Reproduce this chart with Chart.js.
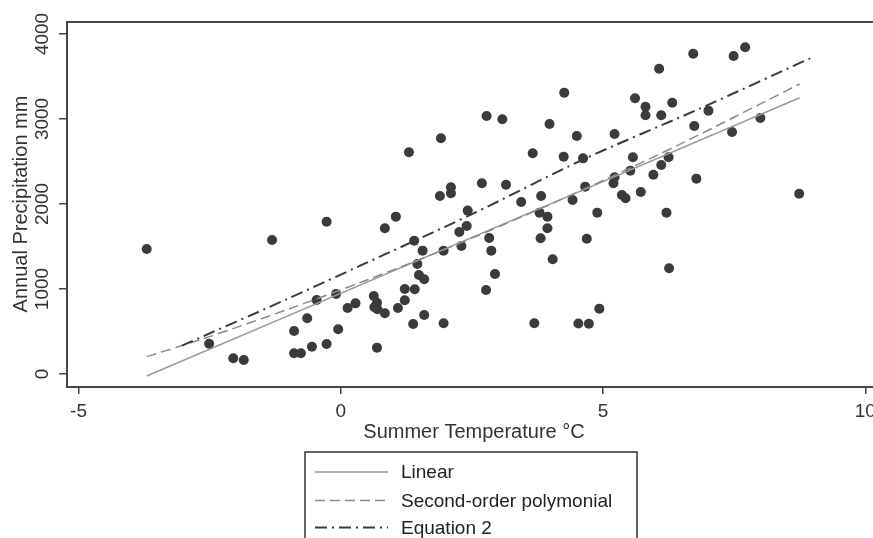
<!DOCTYPE html>
<html>
<head>
<meta charset="utf-8">
<script src="https://cdn.jsdelivr.net/npm/chart.js@4.4.1/dist/chart.umd.min.js"></script>
<style>
  html, body { margin: 0; padding: 0; background: #fff; overflow: hidden; }
  #wrap { position: relative; width: 900px; height: 538px; }
</style>
</head>
<body>
<div id="wrap"><canvas id="chart"></canvas></div>
<script>
// scatter: summer temperature (°C) vs annual precipitation (mm)
const tempC = [-3.70,-2.51,-2.05,-1.85,-1.31,-0.89,-0.89,-0.76,-0.64,-0.55,-0.46,-0.27,-0.27,-0.09,-0.05,0.13,0.28,0.63,0.64,0.69,
  0.70,0.69,0.84,0.84,1.05,1.09,1.22,1.22,1.30,1.38,1.40,1.41,1.46,1.49,1.56,1.59,1.59,1.89,1.91,1.96,
  1.96,2.10,2.10,2.26,2.30,2.40,2.42,2.69,2.77,2.78,2.83,2.87,2.94,3.08,3.15,3.44,3.66,3.69,3.79,3.81,
  3.82,3.94,3.94,3.98,4.04,4.25,4.26,4.42,4.50,4.53,4.73,4.62,4.66,4.69,4.89,4.93,5.20,5.22,5.22,5.36,
  5.43,5.52,5.57,5.61,5.72,5.81,5.81,5.96,6.07,6.11,6.11,6.21,6.25,6.26,6.32,6.72,6.74,6.78,7.01,7.46,
  7.49,7.71,8.00,8.74];
const precipMm = [1471,356,185,165,1576,506,243,243,655,321,871,353,1792,941,526,776,831,918,785,839,
  761,310,714,1714,1851,776,867,1000,2608,588,1568,996,1294,1165,1451,1114,694,2094,2773,1451,
  596,2196,2126,1671,1506,1741,1922,2243,988,3035,1600,1451,1176,2996,2227,2024,2596,596,1898,1596,
  2094,1851,1714,2941,1349,2557,3310,2047,2800,594,592,2537,2204,1592,1898,769,2243,2314,2824,2106,
  2067,2392,2549,3243,2141,3145,3043,2345,3592,3043,2459,1898,2549,1243,3192,3768,2918,2298,3098,2847,
  3741,3843,3012,2121];

// fitted curves
const linX  = [-3.70, 8.75];
const linY  = [-24, 3250];
const quadX = [-3.7, -2.5, -1, 0.5, 2, 3.5, 5, 6.5, 8.75];
const quadY = [204, 440, 763, 1106, 1470, 1863, 2276, 2713, 3412];
const eq2X  = [-3.03, -1.06, 0.37, 2.5, 4.63, 6.8, 8.99];
const eq2Y  = [333, 871, 1274, 1880, 2526, 3110, 3725];

const xTicks = [-5, 0, 5, 10];
const yTicks = [0, 1000, 2000, 3000, 4000];
const legendLabels = ['Linear', 'Second-order polymonial', 'Equation 2'];

const FONT = '"Liberation Sans", Arial, sans-serif';
const pts = (xs, ys) => xs.map((x, i) => ({ x: x, y: ys[i] }));

const lineStyles = [
  { color: '#9a9a9a', width: 1.5, dash: [] },
  { color: '#8a8a8a', width: 1.5, dash: [10, 5] },
  { color: '#3a3a3a', width: 2,   dash: [12, 5, 2, 5] }
];

const framePlugin = {
  id: 'frame',
  afterDraw(chart) {
    const { ctx, chartArea: a, scales: { x, y } } = chart;
    ctx.save();
    ctx.strokeStyle = '#444';
    ctx.lineWidth = 2;
    ctx.strokeRect(a.left, a.top, a.right - a.left, a.bottom - a.top);

    // rotated y tick labels
    ctx.fillStyle = '#333';
    ctx.font = '19px ' + FONT;
    ctx.textAlign = 'center';
    ctx.textBaseline = 'middle';
    yTicks.forEach(v => {
      ctx.save();
      ctx.translate(43, y.getPixelForValue(v));
      ctx.rotate(-Math.PI / 2);
      ctx.fillText(String(v), 0, 0);
      ctx.restore();
    });

    // axis titles
    ctx.font = '20px ' + FONT;
    ctx.save();
    ctx.translate(21, 204);
    ctx.rotate(-Math.PI / 2);
    ctx.fillText('Annual Precipitation mm', 0, 0);
    ctx.restore();
    ctx.fillText('Summer Temperature °C', (a.left + a.right) / 2, 432);

    // legend box
    ctx.strokeStyle = '#333';
    ctx.lineWidth = 1.5;
    ctx.strokeRect(305, 452, 332, 120);
    ctx.font = '19px ' + FONT;
    ctx.textAlign = 'left';
    [472, 500.5, 527.5].forEach((ly, i) => {
      const s = lineStyles[i];
      ctx.strokeStyle = s.color;
      ctx.lineWidth = s.width;
      ctx.setLineDash(s.dash);
      ctx.beginPath();
      ctx.moveTo(315, ly);
      ctx.lineTo(388, ly);
      ctx.stroke();
      ctx.setLineDash([]);
      ctx.fillStyle = '#222';
      ctx.fillText(legendLabels[i], 401, ly + 1);
    });
    ctx.restore();
  }
};

const lineSet = (label, data, s, order) => ({
  type: 'line', label: label, data: data, order: order,
  borderColor: s.color, borderWidth: s.width, borderDash: s.dash,
  pointRadius: 0, fill: false, tension: 0.3
});

new Chart(document.getElementById('chart'), {
  type: 'scatter',
  data: {
    datasets: [
      lineSet(legendLabels[0], pts(linX, linY), lineStyles[0], 2),
      lineSet(legendLabels[1], pts(quadX, quadY), lineStyles[1], 1),
      lineSet(legendLabels[2], pts(eq2X, eq2Y), lineStyles[2], 0),
      {
        label: 'Sites', data: pts(tempC, precipMm), order: 5,
        pointRadius: 5, pointBackgroundColor: '#3b3b3b', pointBorderWidth: 0,
        pointBorderColor: '#3b3b3b'
      }
    ]
  },
  options: {
    responsive: true,
    maintainAspectRatio: false,
    animation: false,
    layout: { padding: { top: 22, right: 19, left: 0, bottom: 0 } },
    plugins: { legend: { display: false }, tooltip: { enabled: false } },
    scales: {
      x: {
        type: 'linear', min: -5.22, max: 10.3,
        afterBuildTicks: s => { s.ticks = xTicks.map(v => ({ value: v })); },
        afterFit: s => { s.height = 151; },
        border: { display: false },
        grid: { drawOnChartArea: false, drawTicks: true, tickLength: 7, color: '#444', lineWidth: 1.5 },
        ticks: { color: '#333', font: { family: FONT, size: 19 }, padding: 6, maxRotation: 0 }
      },
      y: {
        type: 'linear', min: -153, max: 4141,
        afterBuildTicks: s => { s.ticks = yTicks.map(v => ({ value: v })); },
        afterFit: s => { s.width = 67; },
        border: { display: false },
        grid: { drawOnChartArea: false, drawTicks: true, tickLength: 8, color: '#444', lineWidth: 1.5 },
        ticks: { display: false }
      }
    }
  },
  plugins: [framePlugin]
});
</script>
</body>
</html>
